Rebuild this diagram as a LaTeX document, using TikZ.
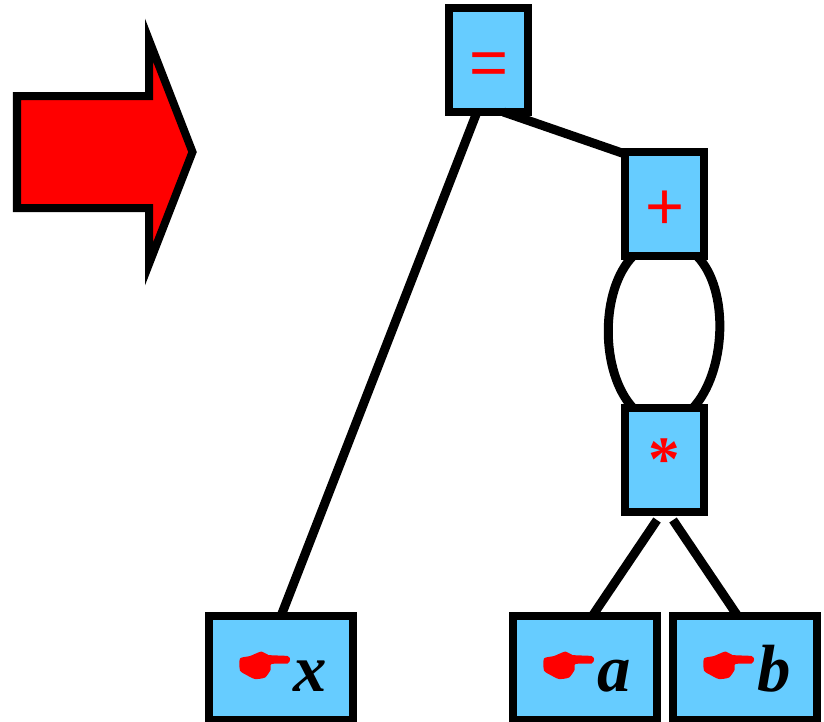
\documentclass[tikz,border=0pt]{standalone}
\usepackage{fontspec}
\setmainfont{Liberation Serif}
\newfontfamily\opfont{Liberation Sans}
\definecolor{boxblue}{HTML}{66CCFF}
\tikzset{
    tree/.style={draw,line width=0.16cm,fill=boxblue,inner sep=0,outer sep=0},
    op/.style={tree,minimum width=1.58cm,minimum height=2.08cm,text=red,text height=1.1cm,text depth=0.1cm,font=\opfont\fontsize{38}{38}\selectfont},
    leaf/.style={tree,minimum width=2.88cm,minimum height=2.08cm,text height=1.02cm,text depth=0.1cm,font=\fontsize{38}{38}\selectfont\bfseries\itshape},
    edge/.style={line width=0.18cm},
    hand/.pic={\fill[red] plot[smooth cycle,tension=0.4] coordinates {(-0.82,0.19) (-0.62,0.24) (-0.39,0.33) (-0.25,0.26) (0.13,0.24) (0.18,0.17) (0.13,0.09) (-0.19,0.08) (-0.21,-0.04) (-0.32,-0.19) (-0.52,-0.22) (-0.69,-0.14) (-0.82,-0.05)};}
}
\newcommand{\leaftext}[1]{\hspace*{1.16cm}#1}
\begin{document}
\begin{tikzpicture}
    \useasboundingbox (0,0) rectangle (16.48,-14.42);
    \draw[line width=0.16cm,fill=red,miter limit=10] (0.34,-1.92) -- (2.98,-1.92) -- (2.98,-0.8) -- (3.85,-3.04) -- (2.98,-5.28) -- (2.98,-4.16) -- (0.34,-4.16) -- cycle;
    \node[op] (eq) at (9.77,-1.2) {=};
    \node[op] (plus) at (13.29,-4.08) {+};
    \node[op,font=\fontsize{36}{36}\selectfont\bfseries,text height=1.1cm,text depth=0.3cm] (times) at (13.29,-9.2) {*};
    \node[leaf] (x) at (5.62,-13.36) {\leaftext{x}};
    \node[leaf] (a) at (11.7,-13.36) {\leaftext{a}};
    \node[leaf] (b) at (14.9,-13.36) {\leaftext{b}};
    \pic at (x) {hand};
    \pic at (a) {hand};
    \pic at (b) {hand};
    \draw[edge] ([xshift=-0.23cm]eq.south) -- (x.north);
    \draw[edge] ([xshift=0.3cm]eq.south) -- ([yshift=-0.04cm]plus.north west);
    \draw[edge] ([xshift=-0.63cm]plus.south) .. controls +(-0.66,-0.68) and +(-0.66,0.72) .. ([xshift=-0.63cm]times.north);
    \draw[edge] ([xshift=0.65cm]plus.south) .. controls +(0.66,-0.68) and +(0.66,0.72) .. ([xshift=0.57cm]times.north);
    \draw[edge] ([xshift=-0.15cm,yshift=-0.16cm]times.south) -- ([xshift=0.146cm]a.north);
    \draw[edge] ([xshift=0.17cm,yshift=-0.16cm]times.south) -- ([xshift=-0.146cm]b.north);
\end{tikzpicture}
\end{document}
